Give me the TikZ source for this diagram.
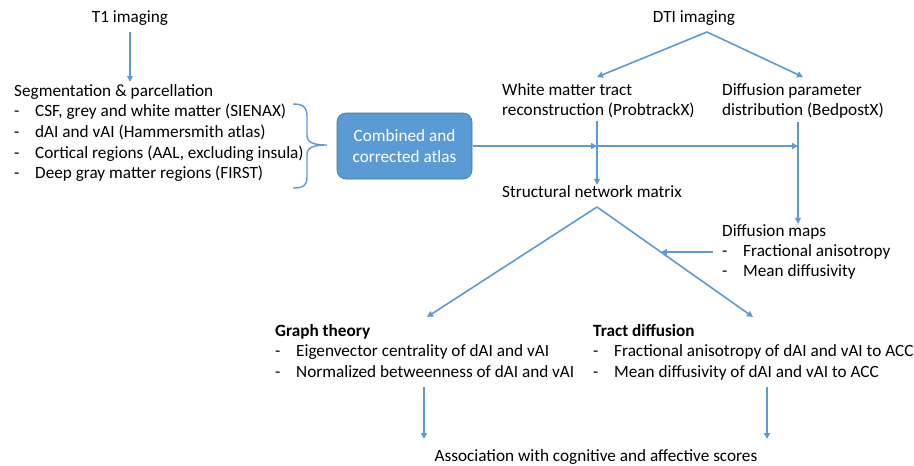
\documentclass[tikz,border=0pt]{standalone}
\usepackage{fontspec}
\setmainfont{Carlito}
\usetikzlibrary{arrows.meta}
\definecolor{lineblue}{HTML}{5B9BD5}
\definecolor{boxedge}{HTML}{41719C}
\newcommand{\dash}{\makebox[21pt][l]{-}}
\begin{document}
\begin{tikzpicture}[x=1pt,y=-1pt,
  txt/.style={inner sep=0pt, anchor=west, font=\fontsize{17.2}{20.7}\selectfont, text height=11pt, text depth=3pt},
  blk/.style={inner sep=0pt, anchor=north west, align=left, font=\fontsize{17.2}{20.7}\selectfont},
  atlasbox/.style={draw=boxedge, line width=0.6pt, fill=lineblue, rounded corners=9pt,
    minimum width=135pt, minimum height=66pt, inner sep=0pt, align=center, text=white,
    font=\fontsize{17.2}{21}\selectfont},
  ln/.style={draw=lineblue, line width=1.6pt},
  arr/.style={ln, -{Triangle[length=6pt,width=6pt]}},
]
\useasboundingbox (0,0) rectangle (914,466);

% T1 branch
\node[txt, anchor=center] (t1) at (130,18) {T1 imaging};
\node[txt] (seg) at (14,92) {Segmentation \& parcellation};
\node[txt] (s1) at (14,112.7) {\dash CSF, grey and white matter (SIENAX)};
\node[txt] (s2) at (14,133.4) {\dash dAI and vAI (Hammersmith atlas)};
\node[txt] (s3) at (14,154.1) {\dash Cortical regions (AAL, excluding insula)};
\node[txt] (s4) at (14,174.8) {\dash Deep gray matter regions (FIRST)};
\draw[arr, shorten <=7pt, shorten >=3pt] (t1.south) -- (t1.south |- seg.north);

% brace
\coordinate (bt) at (293,104);
\coordinate (bb) at (293,188);
\coordinate (btip) at (327,145);
\draw[ln, line width=1.4pt] (bt) .. controls (303,104) and (307,107) .. (307,116) -- (307,135)
  .. controls (307,142) and (312,145) .. (btip)
  .. controls (312,145) and (307,148) .. (307,155) -- (307,177)
  .. controls (307,186) and (303,188) .. (bb);

% atlas box
\node[atlasbox] (atlas) at (404.5,146) {Combined and\\corrected atlas};

% DTI branch
\node[txt, anchor=center] (dti) at (694,18) {DTI imaging};
\coordinate (apex) at (707,32);
\node[blk] (wm) at (502,83) {White matter tract\\reconstruction (ProbtrackX)};
\node[blk] (dp) at (722,83) {Diffusion parameter\\distribution (BedpostX)};
\coordinate (wmcol) at (597,0);
\coordinate (dpcol) at (798,0);
\draw[arr] (apex) -- ([yshift=6pt]wm.north -| wmcol);
\draw[arr] (apex) -- ([yshift=6pt]dp.north);

\node[txt] (snm) at (502,193) {Structural network matrix};
\draw[arr, shorten <=3pt, shorten >=1pt] (wm.south -| wmcol) -- (snm.north -| wmcol);
\draw[arr, shorten <=1pt] (atlas.east) -- (atlas.east -| wmcol);
\draw[arr] (atlas.east -| wmcol) -- (atlas.east -| dpcol);

\node[txt] (dm) at (722,232) {Diffusion maps};
\node[txt] (dm1) at (722,252) {\dash Fractional anisotropy};
\node[txt] (dm2) at (722,272) {\dash Mean diffusivity};
\draw[arr, shorten <=3pt, shorten >=1pt] (dp.south -| dpcol) -- (dm.north -| dpcol);

% split from structural network matrix
\coordinate (sapex) at (597,207);
\node[txt, font=\fontsize{17.2}{20.7}\selectfont\bfseries] (gt) at (275,332) {Graph theory};
\node[txt] (gt1) at (275,352.7) {\dash Eigenvector centrality of dAI and vAI};
\node[txt] (gt2) at (275,373.4) {\dash Normalized betweenness of dAI and vAI};
\node[txt, font=\fontsize{17.2}{20.7}\selectfont\bfseries] (td) at (593,332) {Tract diffusion};
\node[txt] (td1) at (593,352.7) {\dash Fractional anisotropy of dAI and vAI to ACC};
\node[txt] (td2) at (593,373.4) {\dash Mean diffusivity of dAI and vAI to ACC};
\coordinate (gttip) at (427,317);
\coordinate (tdtip) at (753,317);
\draw[arr] (sapex) -- (gttip);
\draw[arr] (sapex) -- (tdtip);
\path (sapex) -- (tdtip) coordinate[pos=0.41] (legmid);
\draw[arr, shorten <=9pt] (dm1.west) -- (dm1.west -| legmid);

% association
\node[txt, anchor=center] (assoc) at (596,457) {Association with cognitive and affective scores};
\coordinate (gtdown) at (424,387);
\coordinate (tddown) at (767,387);
\draw[arr] (gtdown) -- (gtdown |- 0,439);
\draw[arr] (tddown) -- (tddown |- 0,439);
\end{tikzpicture}
\end{document}
